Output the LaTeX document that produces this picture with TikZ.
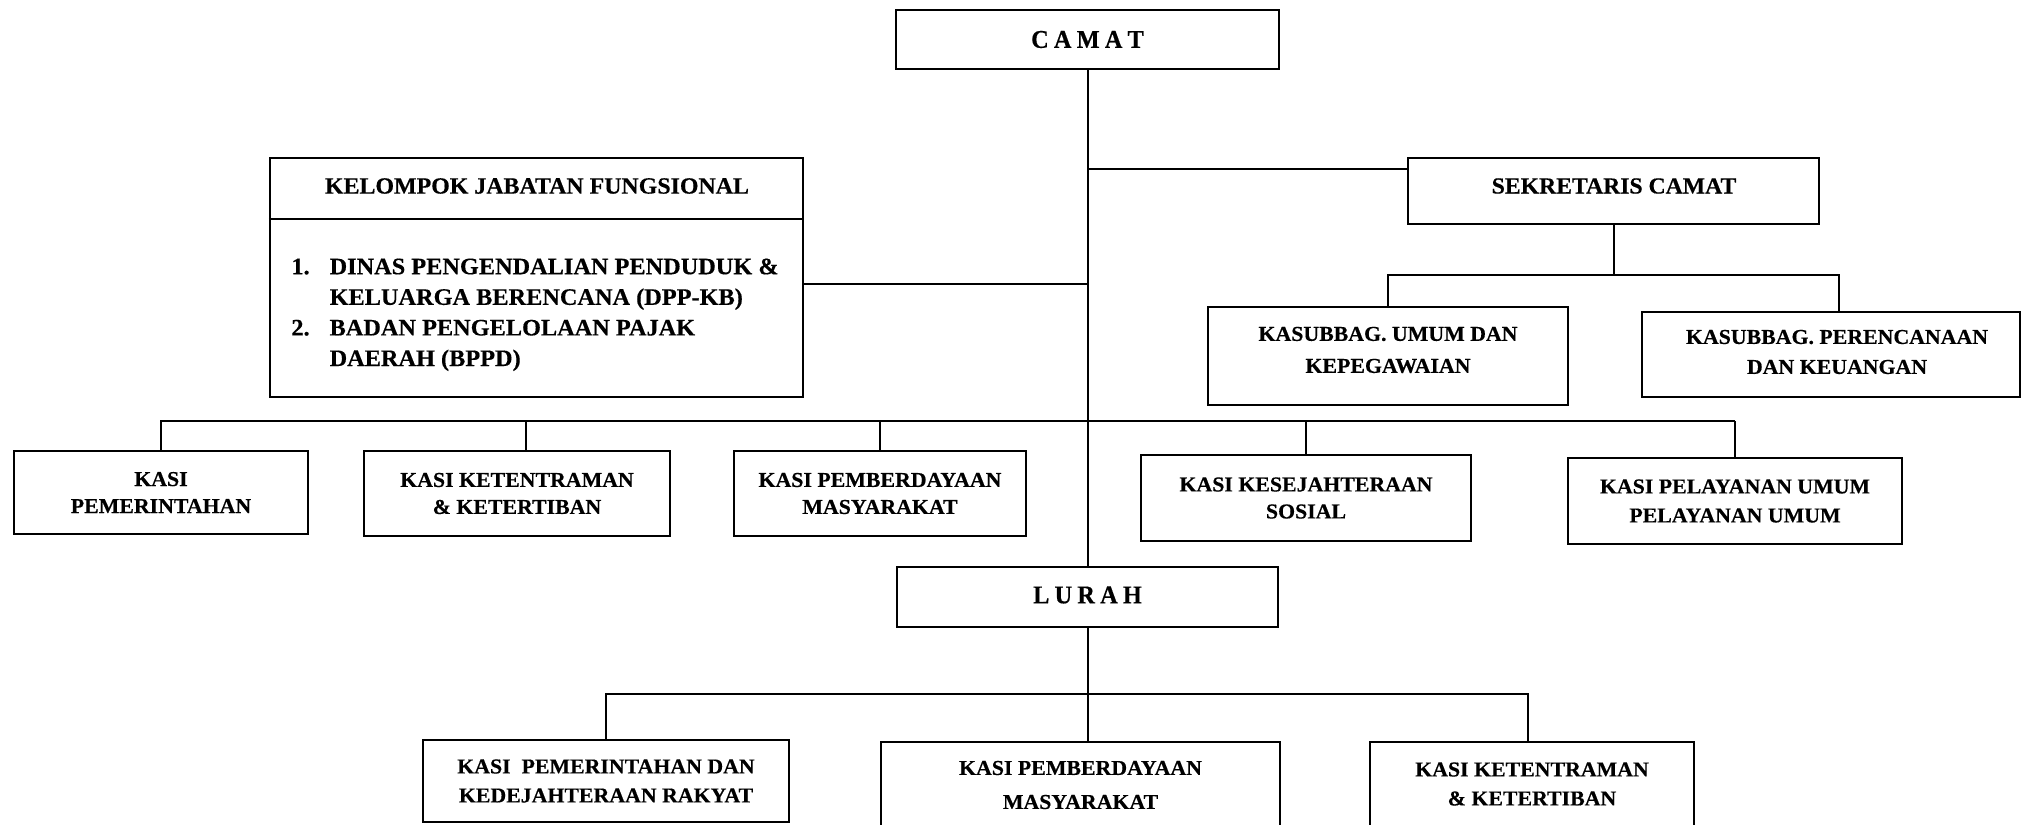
\documentclass[tikz,border=0pt]{standalone}
\usepackage{fontspec}
\setmainfont[FakeStretch=1.03, BoldFeatures={FakeBold=0.4}]{Liberation Serif}
\newfontfamily\titlefont[FakeStretch=0.95, BoldFeatures={FakeBold=0.4}]{Liberation Serif}
\begin{document}
\begin{tikzpicture}[x=0.5pt,y=-0.5pt,
  orgbox/.style={draw, line width=1.1pt, inner sep=0pt, align=center,
    font=\bfseries\fontsize{10.6}{14}\selectfont},
  txt/.style={inner sep=0pt, align=center, font=\bfseries\fontsize{10.6}{14}\selectfont},
  conn/.style={line width=1pt},
  titletxt/.style={font=\titlefont\bfseries\fontsize{12.8}{16}\selectfont}]
\fill[white] (0,0) rectangle (2021,824);
\useasboundingbox (0,0) rectangle (2021,824);
\clip (0,0) rectangle (2021,824);

% top level
\node[orgbox, titletxt, minimum width=191.5pt, minimum height=29.5pt] (camat) at (1087.5,39.5)
  {C\kern2.6pt A\kern2.6pt M\kern2.6pt A\kern2.6pt T};
\node[orgbox, minimum width=205.5pt, minimum height=33pt] (sek) at (1613.5,191) {};
\node[txt, font=\bfseries\fontsize{11.5}{14}\selectfont] (sekt) at (1614,186) {SEKRETARIS CAMAT};

% kelompok jabatan fungsional
\node[orgbox, minimum width=266.5pt, minimum height=119.5pt] (kel) at (536.5,277.5) {};
\coordinate (kdiv) at ([yshift=-31pt]kel.north west);
\draw[line width=1.1pt] (kdiv) -- (kdiv -| kel.east);
\node[txt, font=\bfseries\fontsize{11.6}{14}\selectfont] (kelhead) at (537,186) {KELOMPOK JABATAN FUNGSIONAL};
\node[inner sep=0pt, anchor=west, font=\bfseries\fontsize{11.8}{15.3}\selectfont] (kellist) at (291,314)
  {\begin{tabular}{@{}l@{\hspace{10pt}}l@{}}
   1. & DINAS PENGENDALIAN PENDUDUK \&\\
      & KELUARGA BERENCANA (DPP-KB)\\
   2. & BADAN PENGELOLAAN PAJAK\\
      & DAERAH (BPPD)
   \end{tabular}};

% kasubbag
\node[orgbox, minimum width=180pt, minimum height=49pt] (kas1) at (1388,356) {};
\node[txt, font=\bfseries\fontsize{10.6}{16}\selectfont] (kas1t) at (1388,350) {KASUBBAG. UMUM DAN\\KEPEGAWAIAN};
\node[orgbox, minimum width=189pt, minimum height=42.5pt] (kas2) at (1831,354.5) {};
\node[txt, font=\bfseries\fontsize{10.6}{15}\selectfont] (kas2t) at (1837,352) {KASUBBAG. PERENCANAAN\\DAN KEUANGAN};

% kasi row
\node[orgbox, font=\bfseries\fontsize{10.6}{13.5}\selectfont, minimum width=147pt, minimum height=41.5pt] (k1) at (161,492.5)
  {KASI\\PEMERINTAHAN};
\node[orgbox, font=\bfseries\fontsize{10.6}{13.5}\selectfont, minimum width=153pt, minimum height=42.5pt] (k2) at (517,493.5)
  {KASI KETENTRAMAN\\\& KETERTIBAN};
\node[orgbox, font=\bfseries\fontsize{10.6}{13.5}\selectfont, minimum width=146pt, minimum height=42.5pt] (k3) at (880,493.5)
  {KASI PEMBERDAYAAN\\MASYARAKAT};
\node[orgbox, font=\bfseries\fontsize{10.6}{13.5}\selectfont, minimum width=165pt, minimum height=43pt] (k4) at (1306,498)
  {KASI KESEJAHTERAAN\\SOSIAL};
\node[orgbox, font=\bfseries\fontsize{10.6}{14.5}\selectfont, minimum width=167pt, minimum height=43pt] (k5) at (1735,501)
  {KASI PELAYANAN UMUM\\PELAYANAN UMUM};

% lurah
\node[orgbox, titletxt, minimum width=190.5pt, minimum height=30pt] (lurah) at (1087.5,597)
  {\raisebox{1pt}[\height][\depth]{L\kern2.6pt U\kern2.6pt R\kern2.6pt A\kern2.6pt H}};

% bottom row
\node[orgbox, font=\bfseries\fontsize{10.6}{14.5}\selectfont, minimum width=183pt, minimum height=41pt] (b1) at (606,781)
  {KASI\ \ PEMERINTAHAN DAN\\KEDEJAHTERAAN RAKYAT};
\node[orgbox, font=\bfseries\fontsize{10.6}{17}\selectfont, minimum width=199.5pt, minimum height=43pt] (b2) at (1080.5,785)
  {KASI PEMBERDAYAAN\\MASYARAKAT};
\node[orgbox, font=\bfseries\fontsize{10.6}{14.5}\selectfont, minimum width=162pt, minimum height=42pt] (b3) at (1532,784)
  {KASI KETENTRAMAN\\\& KETERTIBAN};

% connectors
\draw[conn] (camat.south) -- (lurah.north);
\coordinate (sekl) at ([yshift=11pt]sek.west);
\draw[conn] (sekl) -- (sekl -| camat.south);
\coordinate (kelr) at ([yshift=-3.25pt]kel.east);
\draw[conn] (kelr) -- (kelr -| camat.south);

\coordinate (sbar) at ([yshift=-25pt]sek.south);
\coordinate (kas2r) at ([xshift=4pt]kas2.north);
\draw[conn] (sek.south) -- (sbar);
\draw[conn] (kas1.north) -- (kas1.north |- sbar) -- (kas2r |- sbar) -- (kas2r);

\coordinate (mbar) at ([yshift=14.5pt]k1.north);
\coordinate (k2r) at ([xshift=4.5pt]k2.north);
\draw[conn, line width=1.2pt] (k1.north) -- (k1.north |- mbar) -- (k5.north |- mbar);
\draw[conn] (k2r) -- (k2r |- mbar);
\draw[conn] (k3.north) -- (k3.north |- mbar);
\draw[conn] (k4.north) -- (k4.north |- mbar);
\draw[conn] (k5.north) -- (k5.north |- mbar);

\coordinate (lbar) at ([yshift=-33pt]lurah.south);
\coordinate (b3l) at ([xshift=-2pt]b3.north);
\draw[conn] (lurah.south) -- (lurah.south |- b2.north);
\draw[conn, line width=1.2pt] (b1.north) -- (b1.north |- lbar) -- (b3l |- lbar) -- (b3l);
\end{tikzpicture}
\end{document}
